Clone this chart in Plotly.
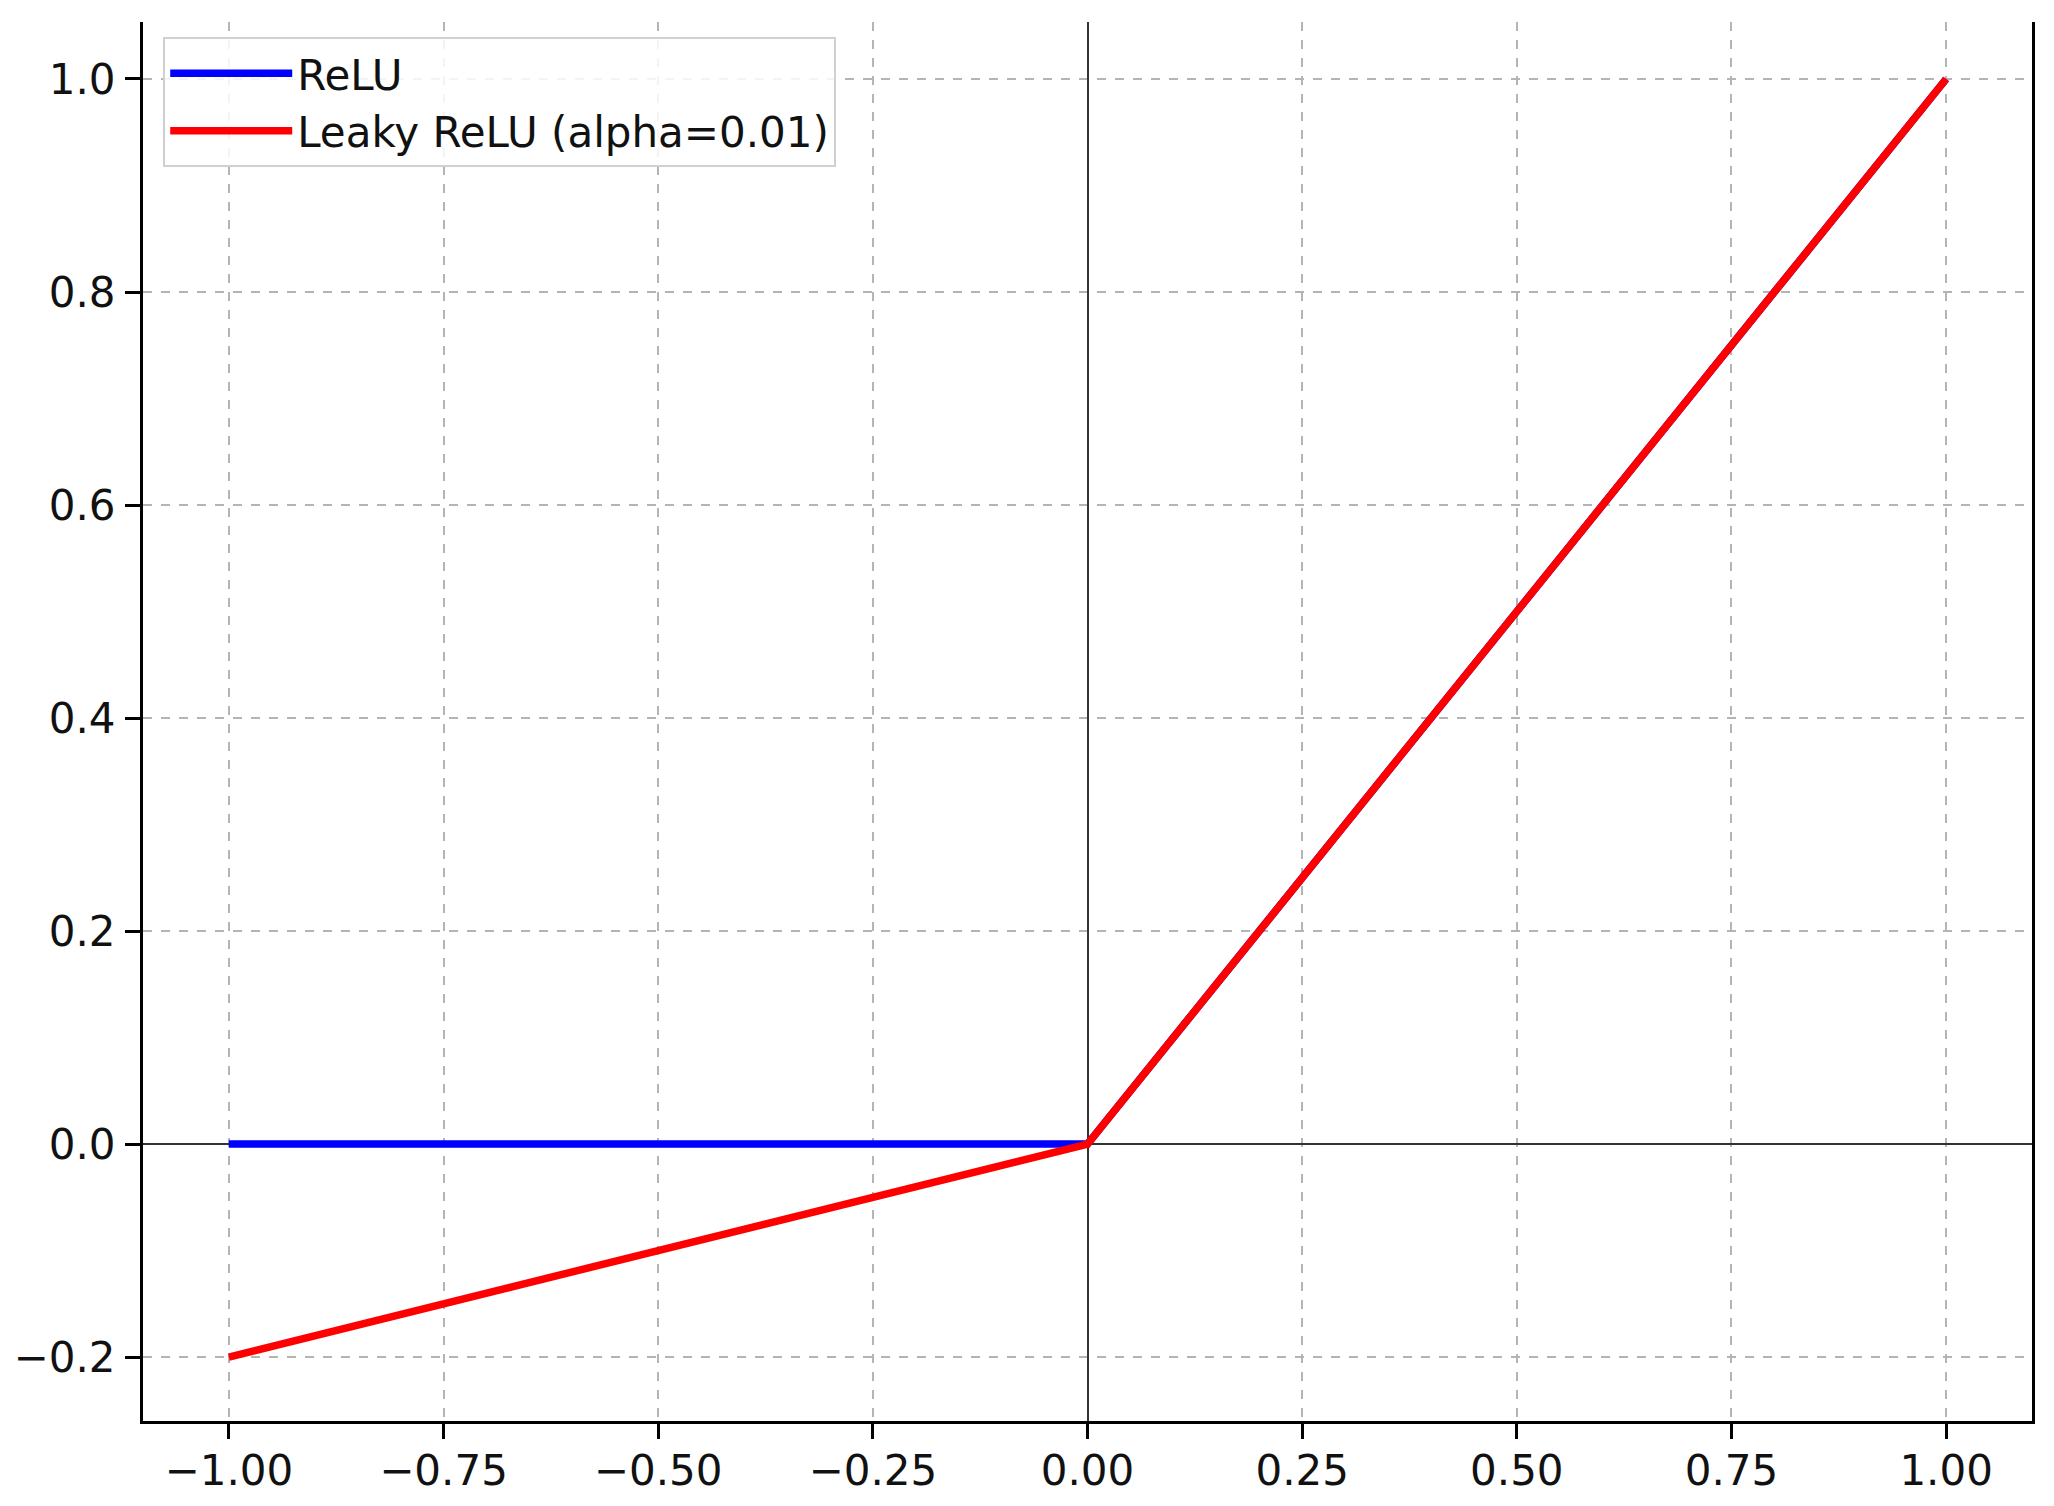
import plotly.graph_objects as go

# values
x_vals = [-1.0, -0.75, -0.5, -0.25, 0.0, 0.25, 0.5, 0.75, 1.0]
relu_vals = [0.0, 0.0, 0.0, 0.0, 0.0, 0.25, 0.5, 0.75, 1.0]
leaky_vals = [-0.2, -0.15, -0.1, -0.05, 0.0, 0.25, 0.5, 0.75, 1.0]

x_ticks = [-1.0, -0.75, -0.5, -0.25, 0.0, 0.25, 0.5, 0.75, 1.0]
y_ticks = [-0.2, 0.0, 0.2, 0.4, 0.6, 0.8, 1.0]

FONT = "DejaVu Sans"

fig = go.Figure()
fig.add_trace(go.Scatter(x=x_vals, y=relu_vals, mode="lines", name="ReLU",
                         line=dict(color="blue", width=7.5)))
fig.add_trace(go.Scatter(x=x_vals, y=leaky_vals, mode="lines", name="Leaky ReLU (alpha=0.01)",
                         line=dict(color="red", width=7.5)))

axis_common = dict(
    automargin=False,
    showgrid=True, gridcolor="#b4b4b4", gridwidth=1.5, griddash="dash",
    zeroline=True, zerolinecolor="#333333", zerolinewidth=1.8,
    showline=True, linecolor="black", linewidth=3,
    ticks="outside", ticklen=15, tickwidth=2.5, tickcolor="black",
    tickfont=dict(family=FONT, size=42, color="#111111"),
)

fig.update_xaxes(range=[-1.1, 1.1], tickvals=x_ticks, tickformat=".2f",
                 ticklabelstandoff=-4, **axis_common)
fig.update_yaxes(range=[-0.26, 1.0535], tickvals=y_ticks, tickformat=".1f",
                 mirror=True, ticklabelstandoff=1, **axis_common)

# the page body adds an 8px margin, so the figure is sized and shifted for it
fig.update_layout(
    width=2046, height=1498,
    margin=dict(l=135, r=22, t=14, b=85),
    plot_bgcolor="white", paper_bgcolor="white",
    font=dict(family=FONT, color="#111111"),
    legend=dict(x=0.0107, y=0.989, xanchor="left", yanchor="top",
                bgcolor="rgba(255,255,255,0.85)", bordercolor="#d0d0d0", borderwidth=2,
                font=dict(family=FONT, size=42), itemwidth=122,
                tracegroupgap=0),
    showlegend=True,
)

fig.write_html("out.html")
